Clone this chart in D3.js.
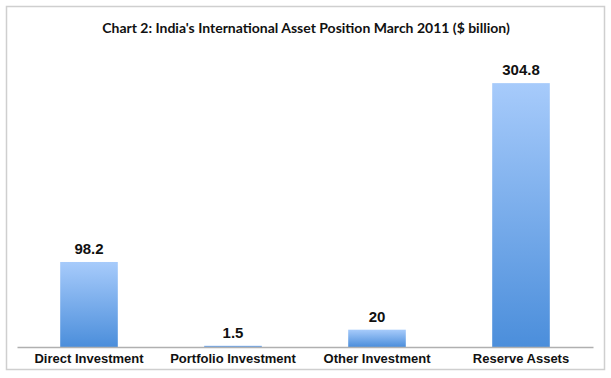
<!DOCTYPE html>
<html>
<head>
<meta charset="utf-8">
<script src="https://cdn.jsdelivr.net/npm/d3@7"></script>
<style>
  body { margin: 0; background: #fff; }
</style>
</head>
<body>
<div id="chart"></div>
<script>
var categories = ["Direct Investment", "Portfolio Investment", "Other Investment", "Reserve Assets"];
var values = [98.2, 1.5, 20, 304.8];
var valueLabels = ["98.2", "1.5", "20", "304.8"];
var title = "Chart 2: India's International Asset Position March 2011 ($ billion)";

var W = 611, H = 378;
var margin = {top: 44, left: 17, right: 18, bottom: 31};
var plotW = W - margin.left - margin.right,
    plotH = H - margin.top - margin.bottom;

var svg = d3.select("#chart").append("svg")
    .attr("width", W)
    .attr("height", H);

var defs = svg.append("defs");
var grad = defs.append("linearGradient")
    .attr("id", "barGrad")
    .attr("x1", 0).attr("y1", 0).attr("x2", 0).attr("y2", 1);
grad.append("stop").attr("offset", "0%").attr("stop-color", "#a7cbfb");
grad.append("stop").attr("offset", "100%").attr("stop-color", "#4b8edb");

// outer frame
svg.append("rect")
    .attr("x", 6.5).attr("y", 6.5)
    .attr("width", 598).attr("height", 363)
    .attr("fill", "#fff")
    .attr("stroke", "#cfcfcf")
    .attr("stroke-width", 1.5);

svg.append("text")
    .attr("x", 306)
    .attr("y", 33)
    .attr("text-anchor", "middle")
    .style("font-family", "Lato, 'Open Sans', sans-serif")
    .style("font-weight", "bold")
    .style("font-size", "14px")
    .attr("fill", "#111")
    .text(title);

var g = svg.append("g")
    .attr("transform", "translate(" + margin.left + "," + margin.top + ")");

var x = d3.scaleBand()
    .domain(categories)
    .range([0, plotW])
    .paddingInner(0.6)
    .paddingOuter(0.3);

var y = d3.scaleLinear()
    .domain([0, 350])
    .range([plotH, 0]);

g.selectAll("rect.bar")
    .data(values)
    .enter().append("rect")
    .attr("class", "bar")
    .attr("x", function(d, i) { return x(categories[i]); })
    .attr("y", function(d) { return y(d); })
    .attr("width", x.bandwidth())
    .attr("height", function(d) { return plotH - y(d); })
    .attr("fill", "url(#barGrad)");

g.selectAll("text.val")
    .data(values)
    .enter().append("text")
    .attr("class", "val")
    .attr("x", function(d, i) { return x(categories[i]) + x.bandwidth() / 2; })
    .attr("y", function(d) { return y(d) - 8; })
    .attr("text-anchor", "middle")
    .style("font-family", "'Liberation Sans', Arial, sans-serif")
    .style("font-weight", "bold")
    .style("font-size", "15px")
    .attr("fill", "#111")
    .text(function(d, i) { return valueLabels[i]; });

var xAxis = g.append("g")
    .attr("transform", "translate(0," + plotH + ")")
    .call(d3.axisBottom(x).tickSize(0).tickPadding(7));
xAxis.select(".domain").attr("stroke", "#b0b0b0").attr("stroke-width", 1.5);
xAxis.selectAll("text")
    .style("font-family", "'Liberation Sans', Arial, sans-serif")
    .style("font-weight", "bold")
    .style("font-size", "13px")
    .attr("fill", "#111");
</script>
</body>
</html>
